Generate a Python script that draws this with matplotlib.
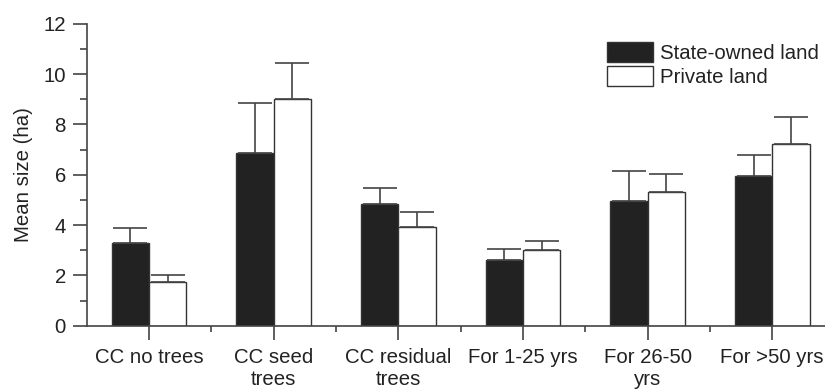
import numpy as np
import matplotlib
matplotlib.use("Agg")
import matplotlib.pyplot as plt
from matplotlib.patches import Patch
from matplotlib.ticker import MultipleLocator, FixedLocator

plt.rcParams['font.family'] = ['Liberation Sans', 'DejaVu Sans']

categories = ["CC no trees", "CC seed\ntrees", "CC residual\ntrees",
              "For 1-25 yrs", "For 26-50\nyrs", "For >50 yrs"]
state_mean = [3.28, 6.87, 4.85, 2.62, 4.95, 5.96]
state_err = [0.60, 1.98, 0.63, 0.44, 1.21, 0.81]
private_mean = [1.72, 9.00, 3.93, 3.02, 5.30, 7.22]
private_err = [0.28, 1.44, 0.60, 0.33, 0.74, 1.07]

dark = "#222222"
line = "#444444"
fs = 14.7

fig = plt.figure(figsize=(8.25, 3.92), dpi=100)
ax = fig.add_axes([0.1051, 0.169, 0.9065, 0.7704])

x = np.arange(len(categories))
w = 0.3
ekw = dict(ecolor=line, elinewidth=1.2, capsize=12.5, capthick=1.2)
ax.bar(x - w / 2, state_mean, w, color=dark, edgecolor="#333333", linewidth=1,
       yerr=[np.zeros(len(x)), state_err], error_kw=ekw, label="State-owned land")
ax.bar(x + w / 2, private_mean, w, color="white", edgecolor="#333333", linewidth=1,
       yerr=[np.zeros(len(x)), private_err], error_kw=ekw, label="Private land")

ax.set_xlim(-0.5, 5.5)
ax.set_ylim(0, 12)
ax.yaxis.set_major_locator(MultipleLocator(2))
ax.yaxis.set_minor_locator(MultipleLocator(1))
ax.set_xticks(x)
ax.set_xticklabels(categories)
ax.xaxis.set_minor_locator(FixedLocator(np.arange(0.5, 5.5, 1)))

for s in ["top", "right"]:
    ax.spines[s].set_visible(False)
for s in ["left", "bottom"]:
    ax.spines[s].set_color(line)
    ax.spines[s].set_linewidth(1.2)

ax.tick_params(axis="both", which="major", length=10, width=1.2, color=line,
               labelsize=fs, labelcolor=dark)
ax.tick_params(axis="both", which="minor", length=5, width=1.2, color=line)
ax.tick_params(axis="x", which="minor", length=4)
ax.tick_params(axis="x", which="major", pad=6)
ax.tick_params(axis="y", which="major", pad=5)

ax.set_ylabel("Mean size (ha)", fontsize=fs, color=dark)
ax.yaxis.set_label_coords(-0.072, 0.5)

handles = [Patch(facecolor=dark, edgecolor="#333333", linewidth=1),
           Patch(facecolor="white", edgecolor="#333333", linewidth=1)]
fig.legend(handles, ["State-owned land", "Private land"], loc="upper left",
           bbox_to_anchor=(607 / 825, 1 - 42 / 392), frameon=False, fontsize=fs,
           handlelength=2.25, handleheight=1.13, labelspacing=0.15,
           handletextpad=0.34, borderpad=0, borderaxespad=0, labelcolor=dark)

fig.savefig("out.png", dpi=100)
